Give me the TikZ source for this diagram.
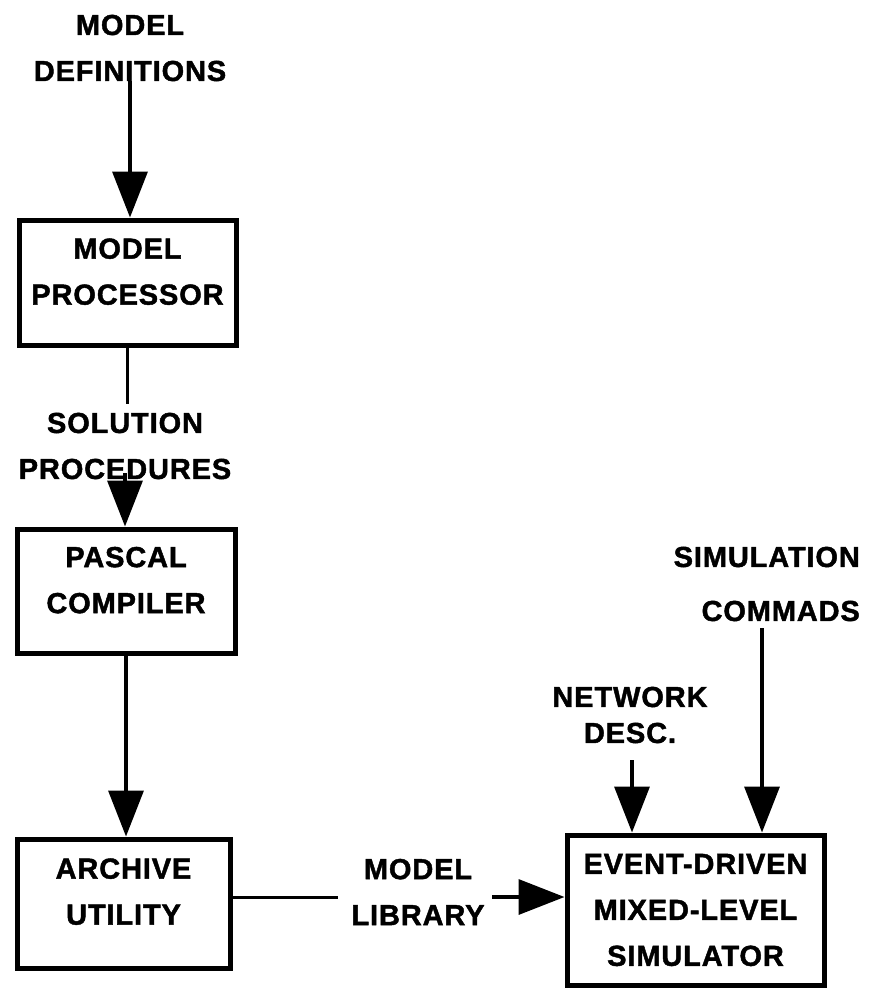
\documentclass[tikz,border=0pt]{standalone}
\usepackage{fontspec}
\setmainfont{Liberation Sans}
\usetikzlibrary{arrows.meta}
\newcommand{\lettering}[1]{\fontsize{29}{#1}\selectfont\bfseries\addfontfeature{LetterSpace=3,FakeBold=1.5}}

\begin{document}
\begin{tikzpicture}[x=1pt,y=-1pt,
		blk/.style={draw,line width=5pt,align=center,font=\lettering{46}},
		lbl/.style={align=center,font=\lettering{46}},
		arr/.style={line width=3.5pt,-{Triangle[length=46pt,width=35pt]}},
		wire/.style={line width=3pt}]
		\tikzstyle{every node}+=[inner sep=0pt]
		\useasboundingbox (0,0) rectangle (869,990);
		\node[lbl] (defs) at (130,48) {MODEL\\DEFINITIONS};
		\node[blk,minimum width=217pt,minimum height=125pt,text depth=22pt] (proc) at (127.5,282.5) {MODEL\\PROCESSOR};
		\node[lbl] (sol) at (125,446) {SOLUTION\\PROCEDURES};
		\node[blk,minimum width=218pt,minimum height=124pt,text depth=22pt] (pascal) at (126,591) {PASCAL\\COMPILER};
		\node[blk,minimum width=213pt,minimum height=129pt,text depth=24pt] (archive) at (123.5,903.5) {ARCHIVE\\UTILITY};
		\node[lbl] (lib) at (418,892) {MODEL\\LIBRARY};
		\node[blk,minimum width=257pt,minimum height=150pt] (event) at (695.5,910) {EVENT-DRIVEN\\MIXED-LEVEL\\SIMULATOR};
		\node[lbl,font=\lettering{36}] (net) at (630,715) {NETWORK\\DESC.};
		\node[lbl,font=\lettering{54},align=right,anchor=east] (sim) at (860,584) {SIMULATION\\COMMADS};
		\coordinate (solstem) at (125,473);
		\coordinate (libin) at (338,897);
		\coordinate (libout) at (492,897);
		\coordinate (netstem) at (632,760);
		\coordinate (simstem) at (762,628);
		\draw[arr] (defs.south) -- (defs.south |- proc.north);
		\draw[wire,shorten >=9pt] (proc.south) -- (proc.south |- sol.north);
		\draw[arr] (solstem) -- (solstem |- pascal.north);
		\draw[arr] (pascal.south) -- (pascal.south |- archive.north);
		\draw[wire] (libin -| archive.east) -- (libin);
		\draw[arr] (libout) -- (libout -| event.west);
		\draw[arr] (netstem) -- (netstem |- event.north);
		\draw[arr] (simstem) -- (simstem |- event.north);
	\end{tikzpicture}
\end{document}
